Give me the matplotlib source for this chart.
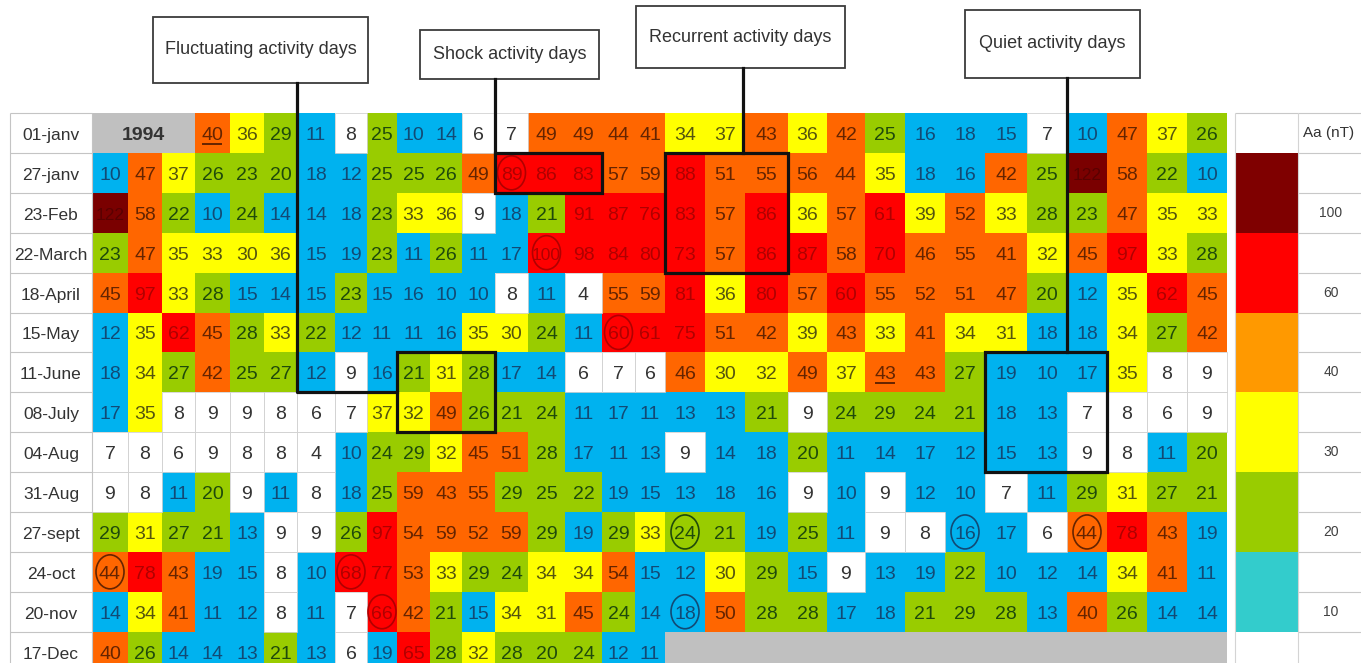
import matplotlib
matplotlib.use('Agg')
import matplotlib.pyplot as plt
from matplotlib.colors import ListedColormap, BoundaryNorm
from matplotlib.patches import Rectangle, Ellipse
import numpy as np

# --- data -------------------------------------------------------------
row_labels = ['01-janv', '27-janv', '23-Feb', '22-March', '18-April', '15-May',
              '11-June', '08-July', '04-Aug', '31-Aug', '27-sept', '24-oct',
              '20-nov', '17-Dec']
N = None
aa = [
    [N, N, N, 40, 36, 29, 11, 8, 25, 10, 14, 6, 7, 49, 49, 44, 41, 34, 37, 43, 36, 42, 25, 16, 18, 15, 7, 10, 47, 37, 26],
    [10, 47, 37, 26, 23, 20, 18, 12, 25, 25, 26, 49, 89, 86, 83, 57, 59, 88, 51, 55, 56, 44, 35, 18, 16, 42, 25, 122, 58, 22, 10],
    [122, 58, 22, 10, 24, 14, 14, 18, 23, 33, 36, 9, 18, 21, 91, 87, 76, 83, 57, 86, 36, 57, 61, 39, 52, 33, 28, 23, 47, 35, 33],
    [23, 47, 35, 33, 30, 36, 15, 19, 23, 11, 26, 11, 17, 100, 98, 84, 80, 73, 57, 86, 87, 58, 70, 46, 55, 41, 32, 45, 97, 33, 28],
    [45, 97, 33, 28, 15, 14, 15, 23, 15, 16, 10, 10, 8, 11, 4, 55, 59, 81, 36, 80, 57, 60, 55, 52, 51, 47, 20, 12, 35, 62, 45],
    [12, 35, 62, 45, 28, 33, 22, 12, 11, 11, 16, 35, 30, 24, 11, 60, 61, 75, 51, 42, 39, 43, 33, 41, 34, 31, 18, 18, 34, 27, 42],
    [18, 34, 27, 42, 25, 27, 12, 9, 16, 21, 31, 28, 17, 14, 6, 7, 6, 46, 30, 32, 49, 37, 43, 43, 27, 19, 10, 17, 35, 8, 9],
    [17, 35, 8, 9, 9, 8, 6, 7, 37, 32, 49, 26, 21, 24, 11, 17, 11, 13, 13, 21, 9, 24, 29, 24, 21, 18, 13, 7, 8, 6, 9],
    [7, 8, 6, 9, 8, 8, 4, 10, 24, 29, 32, 45, 51, 28, 17, 11, 13, 9, 14, 18, 20, 11, 14, 17, 12, 15, 13, 9, 8, 11, 20],
    [9, 8, 11, 20, 9, 11, 8, 18, 25, 59, 43, 55, 29, 25, 22, 19, 15, 13, 18, 16, 9, 10, 9, 12, 10, 7, 11, 29, 31, 27, 21],
    [29, 31, 27, 21, 13, 9, 9, 26, 97, 54, 59, 52, 59, 29, 19, 29, 33, 24, 21, 19, 25, 11, 9, 8, 16, 17, 6, 44, 78, 43, 19],
    [44, 78, 43, 19, 15, 8, 10, 68, 77, 53, 33, 29, 24, 34, 34, 54, 15, 12, 30, 29, 15, 9, 13, 19, 22, 10, 12, 14, 34, 41, 11],
    [14, 34, 41, 11, 12, 8, 11, 7, 66, 42, 21, 15, 34, 31, 45, 24, 14, 18, 50, 28, 28, 17, 18, 21, 29, 28, 13, 40, 26, 14, 14],
    [40, 26, 14, 14, 13, 21, 13, 6, 19, 65, 28, 32, 28, 20, 24, 12, 11, N, N, N, N, N, N, N, N, N, N, N, N, N, N],
]
year = '1994'
circled = [(1, 12), (3, 13), (5, 15), (10, 17), (10, 24), (10, 27),
           (11, 0), (11, 7), (12, 8), (12, 17)]
underlined = [(0, 3), (6, 22)]

# groups: label, first row, last row, first col, last col
groups = [
    ('Fluctuating activity days', 6, 7, 9, 11),
    ('Shock activity days', 1, 1, 12, 14),
    ('Recurrent activity days', 1, 3, 17, 19),
    ('Quiet activity days', 6, 8, 25, 27),
]

bounds = [0, 10, 20, 30, 40, 60, 101, 200]
cell_colors = ['#ffffff', '#00b2ef', '#99cc00', '#ffff00', '#ff6600', '#ff0000', '#7a0000']
text_colors = ['#333333', '#124a75', '#1f4a0b', '#55550e', '#652400', '#b00000', '#5a0000']

legend_labels = ['100', '60', '40', '30', '20', '10']
legend_colors = ['#7f0000', '#ff0000', '#ff9900', '#ffff00', '#99cc00', '#33cccc']

# --- layout -----------------------------------------------------------
col_w = [36, 34, 33, 35, 34, 33, 38, 32, 30, 33, 32, 33, 33, 37, 37, 33, 30,
         40, 40, 43, 39, 38, 40, 40, 40, 42, 40, 40, 40, 40, 40]
xe = 92 + np.concatenate([[0], np.cumsum(col_w)])
ye = 113 + 39.9 * np.arange(15)
label_boxes = [(153, 17, 368, 83), (420, 30, 599, 79), (636, 6, 845, 68), (965, 10, 1140, 78)]

plt.rcParams['font.family'] = ['Liberation Sans', 'DejaVu Sans']

fig = plt.figure(figsize=(13.61, 6.63), dpi=100)
ax = fig.add_axes([0, 0, 1, 1])
ax.set_xlim(0, 1361)
ax.set_ylim(663, 0)
ax.axis('off')

vals = np.array(aa, dtype=float)
cmap = ListedColormap(cell_colors)
cmap.set_bad('#c0c0c0')
norm = BoundaryNorm(bounds, cmap.N)
ax.pcolormesh(xe, ye, np.ma.masked_invalid(vals), cmap=cmap, norm=norm,
              linewidth=0, antialiased=False)

# grid lines on the white cells and the label column
grid = '#d2d2d2'
for r in range(vals.shape[0]):
    for c in range(vals.shape[1]):
        v = vals[r, c]
        if not np.isnan(v) and v < 10:
            ax.add_patch(Rectangle((xe[c], ye[r]), xe[c + 1] - xe[c], ye[r + 1] - ye[r],
                                   fill=False, edgecolor=grid, lw=0.6))
ax.hlines(ye, 10, xe[0], color='#c4c4c4', lw=0.8)
ax.vlines([10, xe[0]], ye[0], 663, color='#c4c4c4', lw=0.8)

fs = 14
dh = 0.716 * fs * 100 / 72
for r in range(vals.shape[0]):
    cy = (ye[r] + ye[r + 1]) / 2
    ax.text(51, cy + dh / 2, row_labels[r], ha='center', va='baseline',
            fontsize=12.5, color='#333333')
    for c in range(vals.shape[1]):
        v = vals[r, c]
        if np.isnan(v):
            continue
        b = int(np.searchsorted(bounds, v, side='right') - 1)
        cx = (xe[c] + xe[c + 1]) / 2
        tc = text_colors[b]
        ax.text(cx, cy + dh / 2, '%d' % v, ha='center', va='baseline',
                fontsize=fs if v < 100 else fs - 1.5, color=tc)
        if (r, c) in circled:
            ax.add_patch(Ellipse((cx, cy), 28, 34, fill=False, edgecolor=tc, lw=1.2))
        if (r, c) in underlined:
            ax.plot([cx - 9, cx + 9], [cy + dh / 2 + 4] * 2, color=tc, lw=1.4)

ax.text((xe[0] + xe[3]) / 2, (ye[0] + ye[1]) / 2 + dh / 2, year, ha='center',
        va='baseline', fontsize=fs, fontweight='bold', color='#333333')

# highlighted groups, label boxes and connectors
for (name, r0, r1, c0, c1), (bx0, by0, bx1, by1) in zip(groups, label_boxes):
    ax.add_patch(Rectangle((xe[c0], ye[r0]), xe[c1 + 1] - xe[c0], ye[r1 + 1] - ye[r0],
                           fill=False, edgecolor='#111111', lw=2.3, zorder=5))
    ax.add_patch(Rectangle((bx0, by0), bx1 - bx0, by1 - by0, facecolor='white',
                           edgecolor='#3c3c3c', lw=1.3, zorder=5))
    ax.text((bx0 + bx1) / 2, (by0 + by1) / 2, name, ha='center', va='center',
            fontsize=13, color='#333333', zorder=6)

ax.plot([xe[6], xe[6], xe[9]], [83, ye[7], ye[7]], color='#111111', lw=2.3, zorder=5)
ax.plot([xe[12], xe[12]], [79, ye[1]], color='#111111', lw=2.3, zorder=5)
ax.plot([743, 743], [68, ye[1]], color='#111111', lw=2.3, zorder=5)
ax.plot([xe[27], xe[27]], [78, ye[6]], color='#111111', lw=2.3, zorder=5)

# legend
lx0, lx1, lx2 = 1235, 1298, 1361
ax.hlines(ye, lx1, lx2, color='#c8c8c8', lw=0.8)
ax.hlines(ye[0], lx0, lx1, color='#c8c8c8', lw=0.8)
ax.vlines([lx0, lx1], ye[0], 663, color='#d4d4d4', lw=0.8)
for i, (lab, col) in enumerate(zip(legend_labels, legend_colors)):
    ax.add_patch(Rectangle((lx0, ye[1 + 2 * i]), lx1 - lx0, ye[3 + 2 * i] - ye[1 + 2 * i],
                           facecolor=col, edgecolor='none'))
    ax.text(1331, (ye[2 + 2 * i] + ye[3 + 2 * i]) / 2, lab, ha='center', va='center',
            fontsize=10, color='#404040')
ax.text(1329, (ye[0] + ye[1]) / 2, 'Aa (nT)', ha='center', va='center',
        fontsize=11, color='#333333')

fig.savefig('out.png', dpi=100)
